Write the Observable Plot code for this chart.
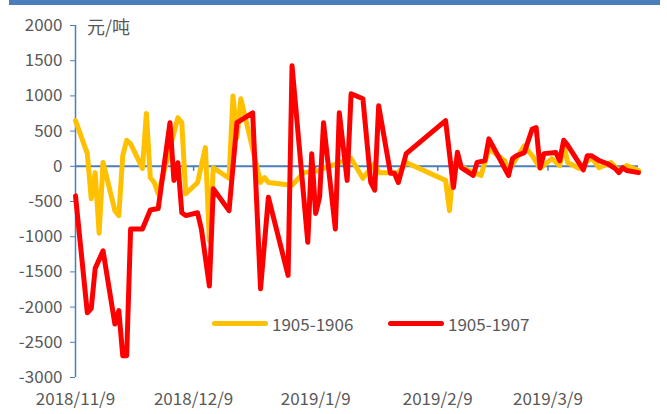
<!DOCTYPE html>
<html><head><meta charset="utf-8">
<script src="https://cdn.jsdelivr.net/npm/d3@7"></script>
<script src="https://cdn.jsdelivr.net/npm/@observablehq/plot@0.6"></script>
<style>
body{margin:0;background:#fff;font-family:"Noto Sans CJK SC",sans-serif}
#wrap{position:relative;width:667px;height:414px;overflow:hidden}
#bar{position:absolute;left:9px;top:0;width:651px;height:5px;background:#4a7ebb}
#unit{position:absolute;left:87px;top:15px;font-size:18px;color:#595959;line-height:22px}
.leg{position:absolute;top:312px;height:22px;display:flex;align-items:center;font-size:17px;color:#595959}
.sw{display:inline-block;width:56px;height:5px;border-radius:3px;margin-right:4px}
</style></head><body>
<div id="wrap"><div id="chart"></div><div id="bar"></div><div id="unit">元/吨</div>
<div class="leg" style="left:212px"><span class="sw" style="background:#FFC000"></span>1905-1906</div>
<div class="leg" style="left:388px"><span class="sw" style="background:#FF0000"></span>1905-1907</div>
</div>
<script>
const seriesNames = ["1905-1906", "1905-1907"];
const yTicks = [-3000,-2500,-2000,-1500,-1000,-500,0,500,1000,1500,2000];
const xTickLabels = ["2018-11-09","2018-12-09","2019-01-09","2019-02-09","2019-03-09"];
const xStart = "2018-11-09", xEnd = "2019-04-01";

const dates1906 = ["2018-11-09","2018-11-12","2018-11-13","2018-11-14","2018-11-15","2018-11-16","2018-11-19","2018-11-20","2018-11-21","2018-11-22","2018-11-23","2018-11-26","2018-11-27","2018-11-28","2018-11-29","2018-11-30","2018-12-05","2018-12-06","2018-12-07","2018-12-10","2018-12-12","2018-12-13","2018-12-14","2018-12-18","2018-12-19","2018-12-20","2018-12-21","2018-12-26","2018-12-27","2018-12-28","2019-01-03","2019-01-06","2019-01-10","2019-01-11","2019-01-18","2019-01-21","2019-01-24","2019-01-25","2019-01-30","2019-02-01","2019-02-11","2019-02-12","2019-02-13","2019-02-20","2019-02-22","2019-02-26","2019-02-27","2019-03-03","2019-03-05","2019-03-07","2019-03-10","2019-03-12","2019-03-13","2019-03-14","2019-03-17","2019-03-20","2019-03-22","2019-03-25","2019-03-27","2019-03-29","2019-04-01"];
const values1906 = [650,180,-460,-90,-950,55,-630,-700,150,370,320,-30,750,-160,-230,-390,690,620,-390,-230,265,-1060,-20,-170,1000,410,960,-230,-160,-230,-270,-90,-60,-30,110,-170,40,-90,-90,55,-200,-630,40,-130,250,80,-60,290,150,-30,110,10,320,55,-30,125,-20,55,-60,10,-60];

const dates1907 = ["2018-11-09","2018-11-12","2018-11-13","2018-11-14","2018-11-16","2018-11-19","2018-11-20","2018-11-21","2018-11-22","2018-11-23","2018-11-26","2018-11-28","2018-11-30","2018-12-03","2018-12-04","2018-12-05","2018-12-06","2018-12-07","2018-12-10","2018-12-11","2018-12-13","2018-12-14","2018-12-18","2018-12-20","2018-12-24","2018-12-26","2018-12-28","2019-01-02","2019-01-03","2019-01-07","2019-01-08","2019-01-09","2019-01-10","2019-01-11","2019-01-14","2019-01-15","2019-01-17","2019-01-18","2019-01-21","2019-01-23","2019-01-24","2019-01-25","2019-01-28","2019-01-29","2019-01-30","2019-02-01","2019-02-11","2019-02-13","2019-02-14","2019-02-15","2019-02-18","2019-02-19","2019-02-21","2019-02-22","2019-02-27","2019-02-28","2019-03-01","2019-03-03","2019-03-05","2019-03-06","2019-03-07","2019-03-08","2019-03-11","2019-03-12","2019-03-13","2019-03-14","2019-03-18","2019-03-19","2019-03-20","2019-03-22","2019-03-24","2019-03-26","2019-03-27","2019-03-28","2019-03-29","2019-04-01"];
const values1907 = [-420,-2080,-2020,-1450,-1200,-2240,-2050,-2690,-2690,-890,-890,-620,-600,620,-200,50,-660,-700,-660,-900,-1700,-320,-630,620,760,-1740,-440,-1550,1430,-1080,180,-670,-440,620,-890,760,-200,1030,960,-230,-340,860,-100,-100,-230,180,650,-300,200,-20,-130,55,80,390,-130,110,150,195,530,550,-20,180,195,80,370,300,-50,150,150,80,40,-30,-90,-20,-60,-90];

const parse = d3.utcParse("%Y-%m-%d");
const blue = "#4a7ebb", gray = "#595959";
const s1 = dates1906.map((d,i)=>({date:parse(d), value:values1906[i]}));
const s2 = dates1907.map((d,i)=>({date:parse(d), value:values1907[i]}));
const xt = xTickLabels.map(parse);
const x0 = parse(xStart), x1 = parse(xEnd);

const chart = Plot.plot({
  width:667, height:414, marginLeft:75, marginRight:29, marginTop:25, marginBottom:37,
  style:{fontFamily:'"Noto Sans CJK SC", sans-serif', fontSize:"17px", color:gray, background:"white"},
  x:{type:"utc", domain:[x0,x1]},
  y:{domain:[-3000,2000]},
  marks:[
    Plot.axisY({ticks:yTicks, tickSize:5, tickPadding:8, stroke:blue, fill:gray, tickFormat:d=>String(d), label:null, fontSize:17}),
    Plot.axisX({ticks:xt, tickSize:0, tickPadding:15, tickFormat:d3.utcFormat("%Y/%-m/%-d"), label:null, fill:gray, fontSize:17}),
    Plot.ruleX([x0], {y1:-3000, y2:2000, stroke:blue, strokeWidth:1.5}),
    Plot.ruleY([0], {x1:x0, x2:x1, stroke:blue, strokeWidth:2}),
    Plot.ruleX(xt.slice(1), {y1:0, y2:0, insetBottom:-5, stroke:blue, strokeWidth:1.5}),
    Plot.line(s1, {x:"date", y:"value", stroke:"#FFC000", strokeWidth:5, strokeLinejoin:"round"}),
    Plot.line(s2, {x:"date", y:"value", stroke:"#FF0000", strokeWidth:5, strokeLinejoin:"round"})
  ]
});
document.getElementById("chart").appendChild(chart);
</script>
</body></html>
